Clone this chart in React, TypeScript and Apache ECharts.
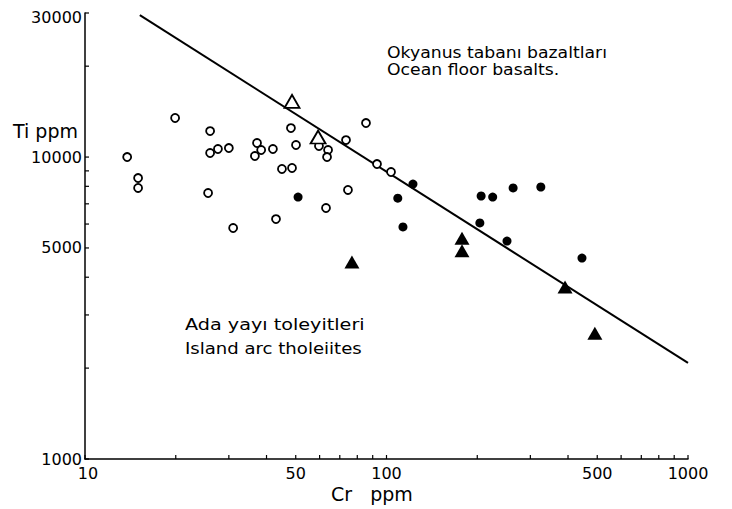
import React, { useEffect, useRef } from "react";
import * as echarts from "echarts";

// Cr ppm, Ti ppm
const oceanFloorOpenCircles: number[][] = [
  [13.8, 10000], [15.0, 8520], [15.0, 7900], [19.9, 13470], [26.0, 12190],
  [26.0, 10310], [27.6, 10630], [30.0, 10710], [25.6, 7600], [31.0, 5820],
  [37.2, 11130], [38.4, 10550], [36.6, 10080], [42.0, 10630], [48.2, 12470],
  [50.1, 10960], [45.0, 9130], [48.6, 9200], [43.0, 6230], [59.7, 10880],
  [64.0, 10550], [63.5, 10000], [63.0, 6780], [73.4, 11380], [74.5, 7780],
  [85.5, 12960], [93.0, 9480], [103.5, 8920],
];
const openTriangles: number[][] = [[48.6, 15300], [59.3, 11650]];
const filledCircles: number[][] = [
  [50.9, 7370], [109, 7310], [122.4, 8140], [113.4, 5870], [206, 7430],
  [225, 7370], [263, 7900], [325, 7960], [204, 6050], [251, 5270], [445, 4630],
];
const filledTriangles: number[][] = [
  [76.8, 4490], [178, 5380], [178, 4890], [391, 3710], [491, 2610],
];
const trendLine: number[][] = [[15.2, 29500], [1000, 2080]];

const xTickLabels = [10, 50, 100, 500, 1000];
const xMinorTicks = [20, 30, 40, 60, 70, 80, 90, 200, 300, 400, 600, 700, 800, 900];
const yTickLabels = [1000, 5000, 10000, 30000];
const yMinorTicks = [2000, 3000, 4000, 6000, 7000, 8000, 9000, 20000];

const FONT = "DejaVu Sans, sans-serif";

export default function App() {
  const ref = useRef<HTMLDivElement>(null);
  useEffect(() => {
    if (!ref.current) return;
    const chart = echarts.init(ref.current, null, { renderer: "svg" });
    const xTickItem = (labelled: boolean) => (params: any, api: any) => {
      const v = api.value(0);
      const p = api.coord([v, 1000]);
      const children: any[] = [
        { type: "line", shape: { x1: p[0], y1: p[1], x2: p[0], y2: p[1] - 4 }, style: { stroke: "#000", lineWidth: 1.2 } },
      ];
      if (labelled) {
        children.push({
          type: "text", x: p[0] + (v === 10 ? 3 : 0), y: p[1] + 6,
          style: { text: String(v), textAlign: "center", textVerticalAlign: "top", font: `16px ${FONT}`, fill: "#000" },
        });
      }
      return { type: "group", children };
    };
    const yTickItem = (labelled: boolean) => (params: any, api: any) => {
      const v = api.value(1);
      const p = api.coord([10, v]);
      const children: any[] = [
        { type: "line", shape: { x1: p[0], y1: p[1], x2: p[0] + 4, y2: p[1] }, style: { stroke: "#000", lineWidth: 1.2 } },
      ];
      if (labelled) {
        children.push({
          type: "text", x: p[0] - 3, y: p[1] + (v === 30000 ? 4 : 0),
          style: { text: String(v), textAlign: "right", textVerticalAlign: "middle", font: `16px ${FONT}`, fill: "#000" },
        });
      }
      return { type: "group", children };
    };
    chart.setOption({
      animation: false,
      backgroundColor: "#fff",
      grid: { left: 85, right: 44, top: 13, bottom: 50 },
      xAxis: {
        type: "log", logBase: 10, min: 10, max: 1000,
        axisLine: { show: true, lineStyle: { color: "#000", width: 1.5 } },
        axisTick: { show: false }, axisLabel: { show: false }, splitLine: { show: false }, minorTick: { show: false },
      },
      yAxis: {
        type: "log", logBase: 10, min: 1000, max: 30000,
        axisLine: { show: true, lineStyle: { color: "#000", width: 1.5 } },
        axisTick: { show: false }, axisLabel: { show: false }, splitLine: { show: false }, minorTick: { show: false },
      },
      graphic: [
        { type: "text", x: 13, y: 121, style: { text: "Ti ppm", font: `19px ${FONT}`, fill: "#000" } },
        { type: "text", x: 331, y: 484, style: { text: "Cr   ppm", font: `19px ${FONT}`, fill: "#000" } },
        { type: "text", x: 387, y: 45, scaleX: 1.15, style: { text: "Okyanus tabanı bazaltları", font: `15px ${FONT}`, fill: "#000" } },
        { type: "text", x: 387, y: 62, scaleX: 1.15, style: { text: "Ocean floor basalts.", font: `15px ${FONT}`, fill: "#000" } },
        { type: "text", x: 185, y: 317, scaleX: 1.2, style: { text: "Ada yayı toleyitleri", font: `16px ${FONT}`, fill: "#000" } },
        { type: "text", x: 185, y: 340, scaleX: 1.13, style: { text: "Island arc tholeiites", font: `16px ${FONT}`, fill: "#000" } },
      ],
      series: [
        { type: "custom", renderItem: xTickItem(true), data: xTickLabels.map((v) => [v, 1000]), silent: true, z: 5 },
        { type: "custom", renderItem: xTickItem(false), data: xMinorTicks.map((v) => [v, 1000]), silent: true, z: 5 },
        { type: "custom", renderItem: yTickItem(true), data: yTickLabels.map((v) => [10, v]), silent: true, z: 5 },
        { type: "custom", renderItem: yTickItem(false), data: yMinorTicks.map((v) => [10, v]), silent: true, z: 5 },
        {
          type: "line", data: trendLine, symbol: "none",
          lineStyle: { color: "#000", width: 2 }, z: 2,
        },
        {
          type: "scatter", data: oceanFloorOpenCircles, symbol: "circle", symbolSize: 8,
          itemStyle: { color: "#fff", borderColor: "#000", borderWidth: 1.8, opacity: 1 }, z: 3,
        },
        {
          type: "scatter", data: openTriangles, symbol: "triangle", symbolSize: [15, 13],
          itemStyle: { color: "#fff", borderColor: "#000", borderWidth: 1.8, opacity: 1 }, z: 3,
        },
        {
          type: "scatter", data: filledCircles, symbol: "circle", symbolSize: 9,
          itemStyle: { color: "#000", opacity: 1 }, z: 3,
        },
        {
          type: "scatter", data: filledTriangles, symbol: "triangle", symbolSize: [15, 13],
          itemStyle: { color: "#000", opacity: 1 }, z: 3,
        },
      ],
    });
    return () => chart.dispose();
  }, []);
  return <div ref={ref} style={{ width: 732, height: 509, position: "absolute", left: 0, top: 0 }} />;
}
